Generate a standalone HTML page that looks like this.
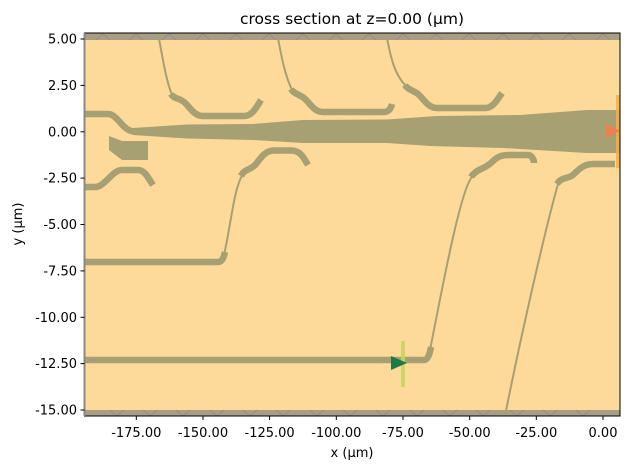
<!DOCTYPE html>
<html><head><meta charset="utf-8"><style>
body{margin:0;background:#fff;}
svg text{font-family:"DejaVu Sans","Liberation Sans",sans-serif;fill:#000;}
</style></head><body>
<svg width="630" height="470" viewBox="0 0 630 470" xmlns="http://www.w3.org/2000/svg">
<rect x="0" y="0" width="630" height="470" fill="#fff"/>
<rect x="84.5" y="33" width="535.5" height="383" fill="#fdd99a"/>
<rect x="84.5" y="33" width="535.5" height="7" fill="#a89e86"/>
<rect x="84.5" y="410" width="535.5" height="6" fill="#a89e86"/>
<g stroke="#8f8a7e" stroke-width="0.8" fill="none">
<path d="M96,40 L103,34 L110,40 M129,40 L136,34 L143,40 M162,40 L169,34 L176,40 M196,40 L203,34 L210,40 M229,40 L236,34 L243,40 M262,40 L269,34 L276,40 M296,40 L303,34 L310,40 M329,40 L336,34 L343,40 M362,40 L369,34 L376,40 M396,40 L403,34 L410,40 M429,40 L436,34 L443,40 M462,40 L469,34 L476,40 M496,40 L503,34 L510,40 M529,40 L536,34 L543,40 M562,40 L569,34 L576,40 M596,40 L603,34 L610,40"/>
<path d="M110,410 L117,416 L124,410 M143,410 L150,416 L157,410 M176,410 L183,416 L190,410 M210,410 L217,416 L224,410 M243,410 L250,416 L257,410 M276,410 L283,416 L290,410 M310,410 L317,416 L324,410 M343,410 L350,416 L357,410 M376,410 L383,416 L390,410 M410,410 L417,416 L424,410 M443,410 L450,416 L457,410 M476,410 L483,416 L490,410 M510,410 L517,416 L524,410 M543,410 L550,416 L557,410 M576,410 L583,416 L590,410"/>
</g>
<g fill="#a6a072">
<polygon points="133,128 187,124.5 253,124 303,120 387,119.5 437,116 520,115 587,110 620,110 620,153 587,153 503,148 430,146 387,143 303,143 253,140 187,138.5 133,135"/>
<polygon points="109,136 122,141 148,141 148,160 122,160 109,150"/>
</g>
<g stroke="#a6a072" fill="none" stroke-width="6.5">
<path d="M84,114 L108,114 C118,114 122,131.5 135,131.5"/>
<path d="M84,187 L95,187 C105,187 112,170 122,170 L138,170 C145,170 148,178 153,185"/>
<path d="M171,94 C174,99 179,98 184,102 C190,107 194,116 203,116 L244,116 C252,116 256,108 261,100"/>
<path d="M291,89 C294,94 299,94 304,98 C310,103 314,112 323,112 L384,112 C389,112 391,108 392,104"/>
<path d="M405,85 C408,90 413,90 418,94 C424,99 428,108 437,108 L485,108 C493,108 497,100 502,93"/>
<path d="M84,262 L218,262 C222,262 224,257 225,252"/>
<path d="M241,176 C245,168 250,171 256,164 C262,156 266,150.5 274,150.5 L292,150.5 C300,150.5 304,158 308,165"/>
<path d="M84,360 L424,360 C428,360 430,353 431,347"/>
<path d="M471,177 C477,168 484,170 492,162 C498,156 502,155 510,155 L528,155 C532,155 534,160 534,163"/>
<path d="M557,184 C562,176 568,180 574,174 C580,168 585,164 593,164 L615,164"/>
</g>
<g stroke="#a6a072" fill="none" stroke-width="2">
<path d="M158,33 C163,60 166,80 172,95"/>
<path d="M277,33 C282,60 285,75 292,90"/>
<path d="M386,33 C391,60 395,75 406,86"/>
<path d="M224,255 C230,230 234,188 242,176"/>
<path d="M430,350 C440,300 460,190 472,177"/>
<path d="M505,416 C520,340 545,230 558,184"/>
</g>
<line x1="403" y1="341" x2="403" y2="387" stroke="#c8d660" stroke-width="4" opacity="0.9"/>
<polygon points="391,356 391,370 407,363" fill="#1e7a44"/>
<line x1="618" y1="95" x2="618" y2="168" stroke="#f8b040" stroke-width="4" opacity="0.85"/>
<polygon points="606,124 606,138 620,131" fill="#f07f50"/>
<rect x="84.5" y="33" width="535.5" height="383" fill="none" stroke="#000" stroke-width="1"/>
<line x1="84.5" y1="33" x2="84.5" y2="416" stroke="#888" stroke-width="2"/>
<g stroke="#000" stroke-width="1">
<line x1="136.3" y1="416" x2="136.3" y2="420"/><line x1="203" y1="416" x2="203" y2="420"/><line x1="269.6" y1="416" x2="269.6" y2="420"/><line x1="336.3" y1="416" x2="336.3" y2="420"/><line x1="403" y1="416" x2="403" y2="420"/><line x1="469.7" y1="416" x2="469.7" y2="420"/><line x1="536.3" y1="416" x2="536.3" y2="420"/><line x1="603" y1="416" x2="603" y2="420"/>
<line x1="80.5" y1="39" x2="84.5" y2="39"/><line x1="80.5" y1="85.4" x2="84.5" y2="85.4"/><line x1="80.5" y1="131.8" x2="84.5" y2="131.8"/><line x1="80.5" y1="178.1" x2="84.5" y2="178.1"/><line x1="80.5" y1="224.5" x2="84.5" y2="224.5"/><line x1="80.5" y1="270.9" x2="84.5" y2="270.9"/><line x1="80.5" y1="317.3" x2="84.5" y2="317.3"/><line x1="80.5" y1="363.6" x2="84.5" y2="363.6"/><line x1="80.5" y1="410" x2="84.5" y2="410"/>
</g>
<g font-size="13" text-anchor="middle">
<text x="136.3" y="437">-175.00</text><text x="203" y="437">-150.00</text><text x="269.6" y="437">-125.00</text><text x="336.3" y="437">-100.00</text><text x="403" y="437">-75.00</text><text x="469.7" y="437">-50.00</text><text x="536.3" y="437">-25.00</text><text x="603" y="437">0.00</text>
</g>
<g font-size="13" text-anchor="end">
<text x="77" y="43.5">5.00</text><text x="77" y="90">2.50</text><text x="77" y="136.3">0.00</text><text x="77" y="182.6">-2.50</text><text x="77" y="229">-5.00</text><text x="77" y="275.4">-7.50</text><text x="77" y="321.8">-10.00</text><text x="77" y="368.1">-12.50</text><text x="77" y="414.5">-15.00</text>
</g>
<text x="352" y="457" font-size="13" text-anchor="middle">x (μm)</text>
<text transform="translate(22,224) rotate(-90)" font-size="13" text-anchor="middle">y (μm)</text>
<text x="352" y="24" font-size="15.5" text-anchor="middle">cross section at z=0.00 (μm)</text>
</svg>
</body></html>
